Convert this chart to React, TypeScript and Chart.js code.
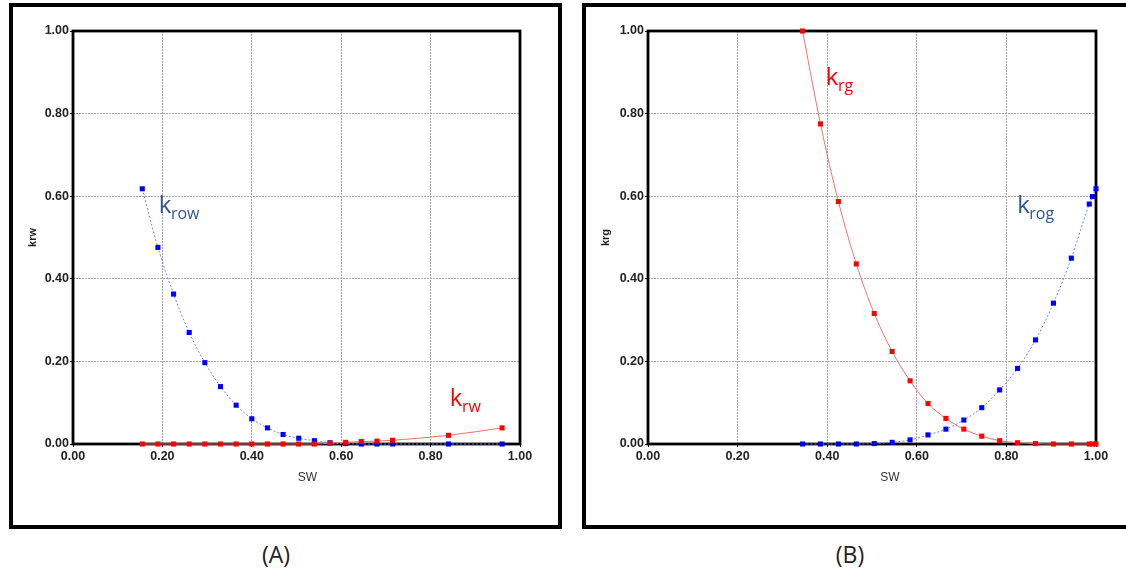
import React, { useEffect, useRef } from "react";
import { Chart, registerables } from "chart.js";

Chart.register(...registerables);

// ---- Data (A) ----
const swA = [0.155, 0.19, 0.225, 0.26, 0.295, 0.33, 0.365, 0.4, 0.435, 0.47, 0.505, 0.54, 0.575, 0.61, 0.645, 0.68, 0.715, 0.84, 0.96];
const krowA = [0.618, 0.476, 0.363, 0.27, 0.197, 0.139, 0.094, 0.061, 0.039, 0.023, 0.014, 0.008, 0.003, 0.001, 0, 0, 0, 0, 0];
const krwA = [0, 0, 0, 0, 0, 0, 0, 0, 0, 0, 0, 0, 0.002, 0.004, 0.006, 0.007, 0.009, 0.021, 0.039];

// ---- Data (B) ----
const swB = [0.345, 0.385, 0.425, 0.465, 0.505, 0.545, 0.585, 0.625, 0.665, 0.705, 0.745, 0.785, 0.825, 0.865, 0.905, 0.945, 0.985, 0.992, 1.0];
const krgB = [1.0, 0.775, 0.587, 0.436, 0.316, 0.224, 0.153, 0.098, 0.062, 0.036, 0.019, 0.008, 0.003, 0.001, 0, 0, 0, 0, 0];
const krogB = [0, 0, 0, 0, 0.001, 0.004, 0.01, 0.022, 0.036, 0.058, 0.088, 0.131, 0.183, 0.252, 0.341, 0.45, 0.581, 0.599, 0.618];

// ---- Axis ----
const axisMin = 0;
const axisMax = 1;
const axisStep = 0.2;

// ---- Labels ----
const labelsA = [
  { x: 0.192, y: 0.559, main: "k", sub: "row", color: "#2f5597" },
  { x: 0.843, y: 0.092, main: "k", sub: "rw", color: "#ff0000" },
];
const labelsB = [
  { x: 0.397, y: 0.869, main: "k", sub: "rg", color: "#ff0000" },
  { x: 0.824, y: 0.559, main: "k", sub: "rog", color: "#2f5597" },
];

const BLUE = "#0000ff";
const RED = "#ff0000";
const TICK_FONT = { family: "'Liberation Sans', Arial, sans-serif", size: 12.5, weight: "bold" as const };

type LabelDef = { x: number; y: number; main: string; sub: string; color: string };

function makePlugin(yTitle: string, xTitleOffset: number, labels: LabelDef[]) {
  return {
    id: "customDecor",
    beforeDatasetsDraw(chart: any) {
      const { ctx, chartArea } = chart;
      ctx.save();
      ctx.strokeStyle = "#000";
      ctx.lineWidth = 2.8;
      ctx.strokeRect(chartArea.left, chartArea.top, chartArea.right - chartArea.left, chartArea.bottom - chartArea.top);
      ctx.restore();
    },
    afterDraw(chart: any) {
      const { ctx, chartArea, scales } = chart;
      ctx.save();
      ctx.fillStyle = "#222";
      ctx.font = "bold 11px 'Liberation Sans', Arial, sans-serif";
      ctx.textAlign = "center";
      ctx.textBaseline = "middle";
      ctx.translate(20, (chartArea.top + chartArea.bottom) / 2);
      ctx.rotate(-Math.PI / 2);
      ctx.fillText(yTitle, 0, 0);
      ctx.restore();

      ctx.save();
      ctx.fillStyle = "#333";
      ctx.font = "12px 'Liberation Sans', Arial, sans-serif";
      ctx.textAlign = "center";
      ctx.textBaseline = "middle";
      ctx.fillText("SW", (chartArea.left + chartArea.right) / 2 + xTitleOffset, chartArea.bottom + 34);
      ctx.restore();

      for (const l of labels) {
        const px = scales.x.getPixelForValue(l.x);
        const py = scales.y.getPixelForValue(l.y);
        ctx.save();
        ctx.fillStyle = l.color;
        ctx.textAlign = "left";
        ctx.textBaseline = "alphabetic";
        ctx.font = "24px 'Open Sans', 'Noto Sans', sans-serif";
        ctx.fillText(l.main, px, py);
        const w = ctx.measureText(l.main).width;
        ctx.font = "16px 'Open Sans', 'Noto Sans', sans-serif";
        ctx.fillText(l.sub, px + w - 0.5, py + 6);
        ctx.restore();
      }
    },
  };
}

function scaleOpts(isX: boolean, fixedSize: number) {
  return {
    type: "linear" as const,
    min: axisMin,
    max: axisMax,
    ticks: {
      stepSize: axisStep,
      callback: (v: any) => Number(v).toFixed(2),
      font: TICK_FONT,
      color: "#222",
      padding: isX ? 2 : 1,
      maxRotation: 0,
      autoSkip: false,
    },
    grid: {
      color: "#a8a8a8",
      lineWidth: 1,
      tickLength: 3,
      tickColor: "#000",
      drawTicks: true,
    },
    border: { display: false, dash: [2, 1] },
    afterFit: (scale: any) => {
      if (isX) scale.height = fixedSize;
      else scale.width = fixedSize;
    },
  };
}

type ChartProps = {
  left: number;
  top: number;
  width: number;
  height: number;
  yWidth: number;
  padTop: number;
  padRight: number;
  xHeight: number;
  yTitle: string;
  xTitleOffset: number;
  labels: LabelDef[];
  datasets: any[];
};

function RelPermChart(p: ChartProps) {
  const ref = useRef<HTMLCanvasElement | null>(null);
  useEffect(() => {
    if (!ref.current) return;
    const chart = new Chart(ref.current, {
      type: "scatter",
      data: { datasets: p.datasets },
      options: {
        animation: false,
        responsive: false,
        devicePixelRatio: 1,
        layout: { padding: { top: p.padTop, right: p.padRight, left: 0, bottom: 0 } },
        plugins: { legend: { display: false }, tooltip: { enabled: false } },
        scales: {
          x: scaleOpts(true, p.xHeight),
          y: scaleOpts(false, p.yWidth),
        },
      } as any,
      plugins: [makePlugin(p.yTitle, p.xTitleOffset, p.labels)],
    });
    return () => chart.destroy();
  }, []);
  return (
    <canvas
      ref={ref}
      width={p.width}
      height={p.height}
      style={{ position: "absolute", left: p.left, top: p.top, width: p.width, height: p.height }}
    />
  );
}

function series(xs: number[], ys: number[], color: string, lineColor: string, dashed: boolean) {
  return {
    data: xs.map((x, i) => ({ x, y: ys[i] })),
    showLine: true,
    cubicInterpolationMode: "monotone",
    borderColor: lineColor,
    borderWidth: 1,
    borderDash: dashed ? [2, 2] : [],
    pointStyle: "rect",
    pointRadius: 3.6,
    pointBackgroundColor: color,
    pointBorderWidth: 0,
    clip: false,
  };
}

export default function App() {
  const dsA = [
    series(swA, krwA, RED, "#ff6a6a", false),
    series(swA, krowA, BLUE, "#6f80ff", true),
  ];
  const dsB = [
    series(swB, krogB, BLUE, "#6f80ff", true),
    series(swB, krgB, RED, "#ff6a6a", false),
  ];
  const box = (left: number, width: number): React.CSSProperties => ({
    position: "absolute",
    left,
    top: 3,
    width,
    height: 526,
    border: "4px solid #000",
    boxSizing: "border-box",
  });
  const caption: React.CSSProperties = {
    position: "absolute",
    top: 538,
    width: 80,
    textAlign: "center",
    fontFamily: "'Open Sans', 'Noto Sans', sans-serif",
    fontSize: 23,
    color: "#222",
    lineHeight: "32px",
  };
  return (
    <div style={{ position: "absolute", left: 0, top: 0, width: 1126, height: 579, background: "#fff", overflow: "hidden" }}>
      <div style={box(9, 553)} />
      <div style={box(582, 570)} />
      <RelPermChart
        left={13}
        top={7}
        width={545}
        height={518}
        yWidth={60}
        padTop={24}
        padRight={38}
        xHeight={81}
        yTitle="krw"
        xTitleOffset={11}
        labels={labelsA}
        datasets={dsA}
      />
      <RelPermChart
        left={586}
        top={7}
        width={540}
        height={518}
        yWidth={62}
        padTop={24}
        padRight={30}
        xHeight={81}
        yTitle="krg"
        xTitleOffset={18}
        labels={labelsB}
        datasets={dsB}
      />
      <div style={{ ...caption, left: 236 }}>(A)</div>
      <div style={{ ...caption, left: 810 }}>(B)</div>
    </div>
  );
}
